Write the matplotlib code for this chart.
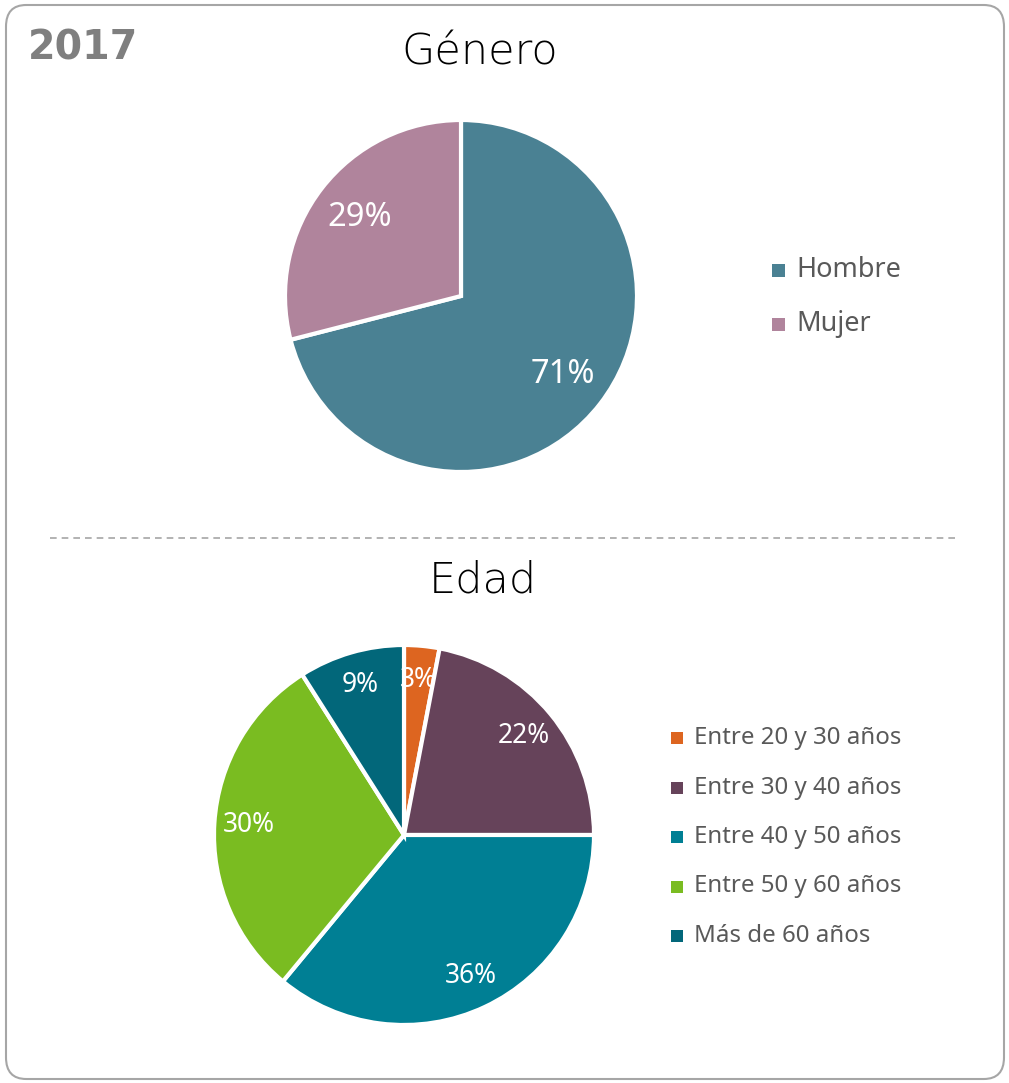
import matplotlib
matplotlib.use("Agg")
import matplotlib.pyplot as plt
from matplotlib.patches import FancyBboxPatch, Rectangle
from matplotlib.lines import Line2D

# datos
genero_labels = ["Hombre", "Mujer"]
genero_vals = [71, 29]
genero_colors = ["#4A8193", "#B0849C"]

edad_labels = ["Entre 20 y 30 años", "Entre 30 y 40 años", "Entre 40 y 50 años",
               "Entre 50 y 60 años", "Más de 60 años"]
edad_vals = [3, 22, 36, 30, 9]
edad_colors = ["#DD6520", "#66435A", "#007F94", "#7ABC21", "#02677A"]

W, H = 1009, 1083
fig = plt.figure(figsize=(W / 100, H / 100), dpi=100)
plt.rcParams['font.family'] = ['Noto Sans', 'DejaVu Sans']

def px(x, y):
    # pixel (desde arriba) -> coordenadas de figura
    return x / W, 1 - y / H

# borde redondeado
fig.patches.append(FancyBboxPatch((6 / W, 4 / H), 998 / W, 1074 / H,
                                  boxstyle="round,pad=0,rounding_size=0.02",
                                  transform=fig.transFigure, fill=False,
                                  edgecolor="#A6A6A6", linewidth=1.5))

# linea discontinua
fig.lines.append(Line2D([50 / W, 958 / W], [1 - 538 / H, 1 - 538 / H],
                        transform=fig.transFigure, color="#A6A6A6",
                        linestyle=(0, (4, 3)), linewidth=1.2))

fig.text(*px(28, 49), "2017", fontsize=28.5, fontweight="bold", color="#7F7F7F",
         va="center", ha="left", family=["DejaVu Sans"])
fig.text(*px(480, 52), "Género", fontsize=31, color="black", va="center", ha="center",
         family=["DejaVu Sans"], fontweight="light")
fig.text(*px(483, 580), "Edad", fontsize=31, color="black", va="center", ha="center",
         family=["DejaVu Sans"], fontweight="light")

def pie_axes(cx, cy, r):
    ax = fig.add_axes([(cx - r) / W, (H - cy - r) / H, 2 * r / W, 2 * r / H])
    return ax

def pct(v):
    return "%d%%" % round(v)

def draw_pie(ax, vals, colors, dist, fs):
    wedges, _, _ = ax.pie(vals, colors=colors, startangle=90, counterclock=False,
                          autopct=pct, pctdistance=dist, radius=1,
                          wedgeprops=dict(edgecolor="white", linewidth=3),
                          textprops=dict(color="white", fontsize=fs))
    for w in wedges:
        w.set_clip_on(False)
    ax.set_xlim(-1, 1)
    ax.set_ylim(-1, 1)
    ax.set_aspect("equal")
    ax.axis("off")
    return wedges

# pie genero
ax1 = pie_axes(461, 296, 176)
draw_pie(ax1, genero_vals, genero_colors, 0.73, 23.5)

# pie edad
ax2 = pie_axes(404, 835, 190)
draw_pie(ax2, edad_vals, edad_colors, 0.82, 19)

# leyendas
def legend(labels, colors, x, y0, dy, fs, sq):
    for i, (lab, col) in enumerate(zip(labels, colors)):
        y = y0 + i * dy
        fig.patches.append(Rectangle((x / W, 1 - (y + sq / 2) / H), sq / W, sq / H,
                                     transform=fig.transFigure, facecolor=col,
                                     edgecolor="none"))
        fig.text((x + sq + 11) / W, 1 - y / H, lab, fontsize=fs, color="#595959",
                 va="center", ha="left")

legend(genero_labels, genero_colors, 772, 270, 54, 19.5, 13)
legend(edad_labels, edad_colors, 671, 738, 49.5, 17.3, 12)

fig.savefig("out.png", dpi=100)
